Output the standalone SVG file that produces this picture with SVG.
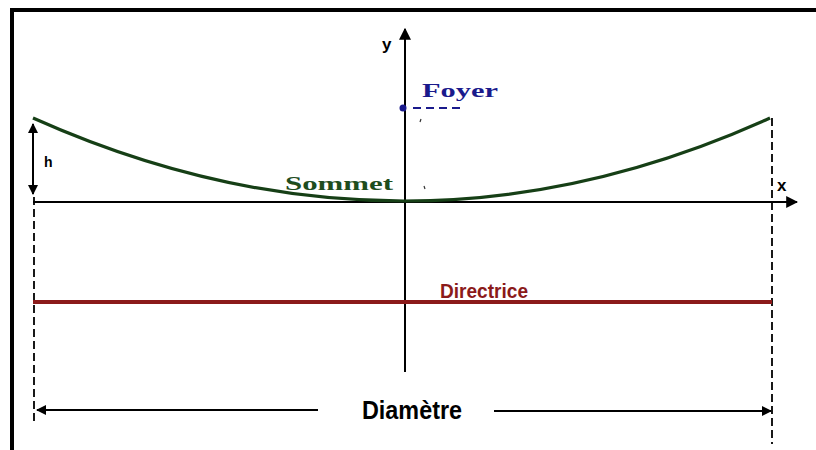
<svg xmlns="http://www.w3.org/2000/svg" width="816" height="450" viewBox="0 0 816 450">
<style>
.frame{stroke:#000;stroke-width:4;fill:none}
.axis{stroke:#000;stroke-width:2;fill:none}
.dash{stroke:#000;stroke-width:1.8;stroke-dasharray:8 4;fill:none}
.arr{stroke:#000;stroke-width:2;fill:none}
.lbl{font-family:"Liberation Sans",Arial,sans-serif;font-weight:bold;fill:#000}
.serif{font-family:"Liberation Serif","Times New Roman",serif;font-weight:bold}
</style>
<defs>
<marker id="ah" viewBox="0 0 10 10" refX="9" refY="5" markerWidth="10" markerHeight="10" markerUnits="userSpaceOnUse" orient="auto-start-reverse">
<path d="M0,0 L10,5 L0,10 Z" fill="#000"/>
</marker>
<marker id="ahBig" viewBox="0 0 10 10" refX="9" refY="5" markerWidth="12" markerHeight="13" markerUnits="userSpaceOnUse" orient="auto">
<path d="M0,0 L10,5 L0,10 Z" fill="#000"/>
</marker>
</defs>
<rect width="816" height="450" fill="#fff"/>
<g id="frame">
<path class="frame" d="M12,450 V10 H816"/>
</g>
<g id="connectors">
<line id="y-axis" class="axis" x1="405" y1="372" x2="405" y2="29" marker-end="url(#ahBig)"/>
<line id="x-axis" class="axis" x1="33" y1="202" x2="797" y2="202" marker-end="url(#ahBig)"/>
<line class="dash" x1="34" y1="197" x2="34" y2="424"/>
<line class="dash" x1="772" y1="118" x2="772" y2="444"/>
<line id="h-arrow" class="arr" x1="33" y1="124" x2="33" y2="194" marker-start="url(#ah)" marker-end="url(#ah)"/>
<line class="arr" x1="318" y1="410" x2="37" y2="410" marker-end="url(#ah)"/>
<line class="arr" x1="494" y1="411" x2="771" y2="411" marker-end="url(#ah)"/>
<line x1="33" y1="302" x2="772" y2="302" stroke="#8b1a1a" stroke-width="4"/>
<line x1="413" y1="108" x2="462" y2="108" stroke="#1a1a8c" stroke-width="2" stroke-dasharray="8 5"/>
<path d="M421,119 l-1,3 M424,186 l1,3" stroke="#333" stroke-width="1.2"/>
</g>
<g id="parabola">
<path d="M33,118 Q218.5,201 404,201 Q587,201 770,118" fill="none" stroke="#163f16" stroke-width="3.2"/>
</g>
<g id="foyer">
<circle cx="403" cy="108" r="3.5" fill="#1a1a8c"/>
<text class="serif" x="422" y="97" font-size="18" fill="#1a1a8c" textLength="76" lengthAdjust="spacingAndGlyphs">Foyer</text>
</g>
<g id="sommet">
<text class="serif" x="285" y="190" font-size="18" fill="#1e4d1e" textLength="108" lengthAdjust="spacingAndGlyphs">Sommet</text>
</g>
<g id="labels">
<text class="lbl" x="382" y="50" font-size="17">y</text>
<text class="lbl" x="777" y="191" font-size="17">x</text>
<text class="lbl" x="44" y="167" font-size="14">h</text>
</g>
<g id="directrice">
<text class="lbl" x="440" y="298" font-size="20" style="fill:#8b1a1a" textLength="88" lengthAdjust="spacingAndGlyphs">Directrice</text>
</g>
<g id="diametre">
<text class="lbl" x="362" y="419" font-size="25" textLength="100" lengthAdjust="spacingAndGlyphs">Diamètre</text>
</g>
</svg>
